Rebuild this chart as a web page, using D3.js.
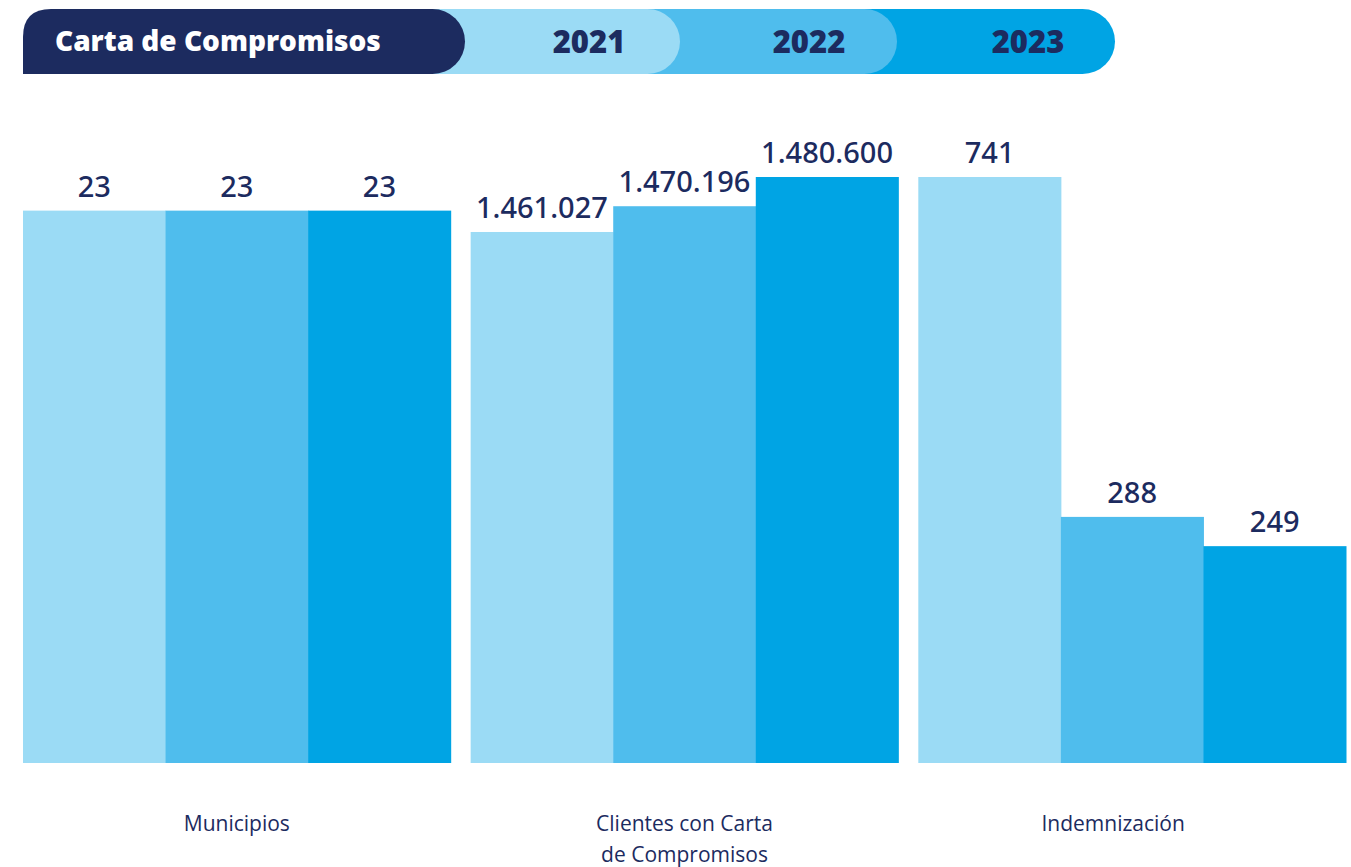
<!DOCTYPE html>
<html><head><meta charset="utf-8">
<script src="https://cdn.jsdelivr.net/npm/d3@7"></script>
<style>
html,body{margin:0;padding:0;background:#fff;}
svg{display:block;}
</style></head>
<body>
<svg id="chart" width="1351" height="867"></svg>
<script>
// ---- data ----
const title = "Carta de Compromisos";
const years = ["2021", "2022", "2023"];
const categories = ["Municipios", "Clientes con Carta de Compromisos", "Indemnización"];
const categoryLines = [["Municipios"], ["Clientes con Carta", "de Compromisos"], ["Indemnización"]];
const values2021 = [23, 1461027, 741];
const values2022 = [23, 1470196, 288];
const values2023 = [23, 1480600, 249];
// per-category value range shown by each group's own scale (chart uses independent, truncated scales)
const domainLow = [0, 1272000, -40];
const domainHigh = [24.4, 1480600, 741];

// ---- setup ----
const W = 1351, H = 867;
const navy = "#1c2b5f";
const colors = ["#9bdbf5", "#4fbded", "#00a4e4"];
const series = [values2021, values2022, values2023];
const fmt = d3.formatLocale({decimal: ",", thousands: ".", grouping: [3], currency: ["", "€"]}).format(",d");

const svg = d3.select("#chart");

// ---- header pills ----
const header = svg.append("g");
const hTop = 9, hH = 65, r = hH / 2;
const pillRight = [680, 897, 1115];
const pillLeft = [300, 520, 740];
const yearX = d3.scaleOrdinal().domain(years).range([589, 809, 1028]);
for (let i = years.length - 1; i >= 0; i--) {
  header.append("rect")
    .attr("x", pillLeft[i]).attr("y", hTop)
    .attr("width", pillRight[i] - pillLeft[i]).attr("height", hH)
    .attr("rx", r).attr("ry", r)
    .attr("fill", colors[i]);
}
const tx0 = 23, tx1 = 465, rtl = 28;
const p = d3.path();
p.moveTo(tx0, hTop + hH);
p.lineTo(tx0, hTop + rtl);
p.quadraticCurveTo(tx0, hTop, tx0 + rtl, hTop);
p.lineTo(tx1 - r, hTop);
p.arc(tx1 - r, hTop + r, r, -Math.PI / 2, Math.PI / 2);
p.lineTo(tx0, hTop + hH);
p.closePath();
header.append("path").attr("d", p.toString()).attr("fill", navy);
header.append("text")
  .attr("x", 55).attr("y", hTop + r).attr("dy", "0.35em")
  .attr("font-family", "'Open Sans', sans-serif").attr("font-weight", 800)
  .attr("font-size", 28).attr("fill", "#fff")
  .text(title);
header.selectAll("text.year").data(years).join("text")
  .attr("class", "year")
  .attr("x", d => yearX(d)).attr("y", hTop + r).attr("dy", "0.36em")
  .attr("text-anchor", "middle")
  .attr("font-family", "'Open Sans', sans-serif").attr("font-weight", 800)
  .attr("font-size", 31).attr("fill", navy)
  .text(d => d);

// ---- scales ----
const baseY = 763, topY = 177;
const x0 = d3.scaleBand().domain(categories).range([23, 1346]).paddingInner(0.0446).paddingOuter(0);
const x1 = d3.scaleBand().domain(years).range([0, x0.bandwidth()]).padding(0);
const yScales = categories.map((c, i) => d3.scaleLinear().domain([domainLow[i], domainHigh[i]]).range([baseY, topY]));

// ---- bars ----
const rows = [];
categories.forEach((c, ci) => {
  years.forEach((yr, si) => {
    rows.push({cat: c, ci, year: yr, si, value: series[si][ci]});
  });
});

const gBars = svg.append("g");
gBars.selectAll("rect").data(rows).join("rect")
  .attr("x", d => x0(d.cat) + x1(d.year))
  .attr("width", x1.bandwidth() + 0.5)
  .attr("y", d => yScales[d.ci](d.value))
  .attr("height", d => baseY - yScales[d.ci](d.value))
  .attr("fill", d => colors[d.si]);

gBars.selectAll("text").data(rows).join("text")
  .attr("x", d => x0(d.cat) + x1(d.year) + x1.bandwidth() / 2)
  .attr("y", d => yScales[d.ci](d.value) - 14)
  .attr("text-anchor", "middle")
  .attr("font-family", "'Noto Sans', sans-serif").attr("font-weight", 500)
  .attr("font-size", 29).attr("fill", navy)
  .text(d => fmt(d.value));

// ---- category labels ----
const labelShift = [0, 0, -19];
const gCat = svg.append("g");
categories.forEach((c, ci) => {
  const cx = x0(c) + x0.bandwidth() / 2 + labelShift[ci];
  const t = gCat.append("text")
    .attr("x", cx)
    .attr("y", 831)
    .attr("text-anchor", "middle")
    .attr("font-family", "'Open Sans', sans-serif")
    .attr("font-size", 21).attr("fill", navy);
  categoryLines[ci].forEach((line, li) => {
    t.append("tspan").attr("x", cx).attr("dy", li === 0 ? 0 : 31).text(line);
  });
});
</script>
</body></html>
